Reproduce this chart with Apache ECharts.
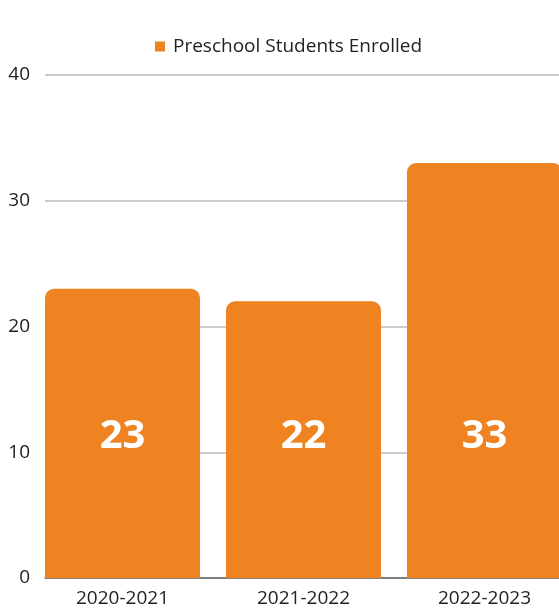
<!DOCTYPE html>
<html>
<head>
<meta charset="utf-8">
<script src="https://cdn.jsdelivr.net/npm/echarts@6/dist/echarts.min.js"></script>
<style>
  html, body { margin: 0; padding: 0; background: #fff; }
  #chart { width: 559px; height: 609px; }
</style>
</head>
<body>
<div id="chart"></div>
<script>
// school years on the x axis
const years = ['2020-2021', '2021-2022', '2022-2023']
// preschool students enrolled per year
const enrolled = [23, 22, 33]
const seriesName = 'Preschool Students Enrolled'

const orange = '#EF8322'
const font = "'Open Sans', 'Noto Sans', sans-serif"

const chart = echarts.init(document.getElementById('chart'))

chart.setOption({
  animation: false,
  legend: {
    top: 32,
    left: 150,
    icon: 'rect',
    itemWidth: 10,
    itemHeight: 10,
    textStyle: { color: '#222', fontSize: 19, fontFamily: font, padding: [0, 0, 0, 3] },
    data: [seriesName]
  },
  grid: [
    // grid for the horizontal lines, starts at the first bar's edge
    { left: 45, width: 530, top: 75, bottom: 31, outerBoundsMode: 'none' },
    // grid for the bars (runs past the right edge, last bar is cut off)
    { left: 32, width: 543, top: 75, bottom: 31, outerBoundsMode: 'none' }
  ],
  xAxis: [
    {
      gridIndex: 0,
      type: 'category',
      data: years,
      axisLine: { show: true, lineStyle: { color: '#666', width: 1.5 } },
      axisTick: { show: false },
      axisLabel: { show: false }
    },
    {
      gridIndex: 1,
      type: 'category',
      data: years,
      axisLine: { show: false },
      axisTick: { show: false },
      axisLabel: { color: '#222', fontSize: 19, fontFamily: font, margin: 11 }
    }
  ],
  yAxis: [
    {
      gridIndex: 0,
      type: 'value',
      min: 0,
      max: 40,
      interval: 10,
      axisLabel: { color: '#222', fontSize: 19, fontFamily: font, margin: 15 },
      splitLine: { lineStyle: { color: '#bbb', width: 1.5 } }
    },
    {
      gridIndex: 1,
      type: 'value',
      min: 0,
      max: 40,
      interval: 10,
      show: false,
      splitLine: { show: false }
    }
  ],
  series: [
    {
      name: seriesName,
      type: 'bar',
      xAxisIndex: 1,
      yAxisIndex: 1,
      data: enrolled,
      barWidth: 155,
      itemStyle: { color: orange, borderRadius: [9, 9, 0, 0] },
      label: {
        show: true,
        position: 'insideBottom',
        distance: 121,
        color: '#fff',
        fontSize: 40,
        fontWeight: 'bold',
        fontFamily: font
      }
    }
  ]
})
</script>
</body>
</html>
